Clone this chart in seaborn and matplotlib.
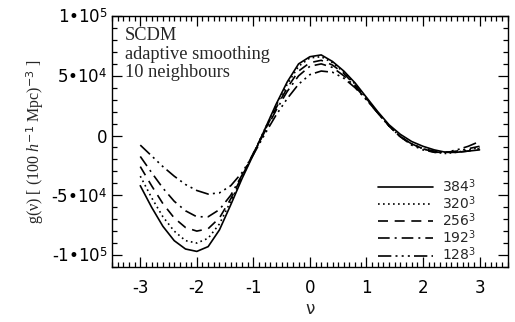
import numpy as np
import pandas as pd
import matplotlib
matplotlib.use("Agg")
import matplotlib.pyplot as plt
import seaborn as sns
from matplotlib.ticker import MultipleLocator, FixedLocator

nu = [-3.0, -2.8, -2.6, -2.4, -2.2, -2.0, -1.8, -1.6, -1.4, -1.2, -1.0,
      -0.8, -0.6, -0.4, -0.2, 0.0, 0.2, 0.4, 0.6, 0.8, 1.0,
      1.2, 1.4, 1.6, 1.8, 2.0, 2.2, 2.4, 2.6, 2.8, 3.0]

g_384 = [-4.2, -6.0, -7.6, -8.8, -9.5, -9.7, -9.3, -7.9, -5.8, -3.6, -1.6,
         0.5, 2.6, 4.5, 6.0, 6.6, 6.75, 6.2, 5.4, 4.4, 3.2,
         2.0, 0.9, 0.1, -0.5, -0.9, -1.2, -1.4, -1.4, -1.3, -1.2]
g_320 = [-3.4, -5.2, -6.8, -8.0, -8.8, -9.0, -8.6, -7.4, -5.5, -3.5, -1.5,
         0.5, 2.5, 4.3, 5.8, 6.5, 6.6, 6.1, 5.3, 4.3, 3.1,
         1.9, 0.8, -0.1, -0.7, -1.1, -1.4, -1.5, -1.4, -1.2, -1.0]
g_256 = [-2.6, -4.2, -5.7, -6.9, -7.7, -8.0, -7.8, -6.9, -5.3, -3.4, -1.5,
         0.4, 2.3, 4.0, 5.4, 6.1, 6.3, 5.9, 5.2, 4.2, 3.1,
         1.9, 0.8, -0.1, -0.7, -1.1, -1.3, -1.4, -1.4, -1.3, -1.1]
g_192 = [-1.75, -3.1, -4.4, -5.5, -6.3, -6.8, -6.8, -6.2, -5.0, -3.3, -1.5,
         0.3, 2.1, 3.7, 5.0, 5.8, 6.0, 5.7, 5.0, 4.1, 3.0,
         1.9, 0.8, -0.1, -0.7, -1.1, -1.4, -1.4, -1.3, -1.1, -0.9]
g_128 = [-0.8, -1.7, -2.6, -3.4, -4.1, -4.6, -4.9, -4.8, -4.2, -3.1, -1.6,
         0.1, 1.7, 3.1, 4.3, 5.1, 5.4, 5.3, 4.8, 4.0, 3.0,
         1.9, 0.8, -0.1, -0.8, -1.2, -1.4, -1.4, -1.2, -0.9, -0.5]

series_labels = ["384$^3$", "320$^3$", "256$^3$", "192$^3$", "128$^3$"]
series_values = [g_384, g_320, g_256, g_192, g_128]
scale = 1e4

ytick_vals = [-1e5, -5e4, 0, 5e4, 1e5]
ytick_labels = ["-1•10$^5$", "-5•10$^4$", "0", "5•10$^4$", "1•10$^5$"]
xtick_vals = [-3, -2, -1, 0, 1, 2, 3]
xtick_labels = ["-3", "-2", "-1", "0", "1", "2", "3"]

sns.set_style("ticks")
plt.rcParams["font.family"] = ["DejaVu Sans"]
plt.rcParams["mathtext.fontset"] = "custom"
plt.rcParams["mathtext.rm"] = "DejaVu Sans"
plt.rcParams["mathtext.it"] = "Liberation Serif:italic"

fig = plt.figure(figsize=(5.15, 3.22), dpi=100)
ax = fig.add_axes([0.2175, 0.171, 0.7685, 0.779])

styles = ["-", (0, (1, 2)), (0, (6, 4)), (0, (7, 3, 1.2, 3)),
          (0, (8, 2.5, 1.2, 2.5, 1.2, 2.5, 1.2, 2.5))]

rows = []
for lab, vals in zip(series_labels, series_values):
    for x, v in zip(nu, vals):
        rows.append({"nu": x, "g": v * scale, "res": lab})
df = pd.DataFrame(rows)

for lab, ls in zip(series_labels, styles):
    sns.lineplot(data=df[df["res"] == lab], x="nu", y="g", ax=ax,
                 color="black", linewidth=1.2, linestyle=ls, label=lab,
                 sort=False)

ax.set_xlim(-3.5, 3.5)
ax.set_ylim(-1.1e5, 1.0e5)
ax.xaxis.set_major_locator(FixedLocator(xtick_vals))
ax.set_xticklabels(xtick_labels)
ax.xaxis.set_minor_locator(MultipleLocator(0.1))
ax.yaxis.set_major_locator(FixedLocator(ytick_vals))
ax.set_yticklabels(ytick_labels)
ax.yaxis.set_minor_locator(MultipleLocator(1e4))
ax.tick_params(which="both", direction="in", top=True, right=True,
               color="black", width=0.9, labelsize=12, labelcolor="black")
ax.tick_params(which="major", length=7)
ax.tick_params(which="minor", length=3.5)
ax.tick_params(axis="x", pad=9)
ax.tick_params(axis="y", pad=3)
for s in ax.spines.values():
    s.set_linewidth(1.0)
    s.set_color("black")

ax.set_xlabel("ν", fontsize=12, labelpad=2)
ax.set_ylabel("g(ν) [ (100 $h^{-1}$ Mpc)$^{-3}$ ]", fontsize=11.5,
              family=["Liberation Serif", "DejaVu Serif"], labelpad=4)

ax.text(0.033, 0.955, "SCDM\nadaptive smoothing\n10 neighbours",
        transform=ax.transAxes, ha="left", va="top", fontsize=13.2,
        family=["Liberation Serif", "DejaVu Serif"], linespacing=1.1)

leg = ax.legend(loc="lower right", bbox_to_anchor=(0.945, -0.025),
                frameon=False, fontsize=10, handlelength=4.0,
                handletextpad=0.65, labelspacing=-0.05, borderpad=0.2)

fig.savefig("out.png", dpi=100)
